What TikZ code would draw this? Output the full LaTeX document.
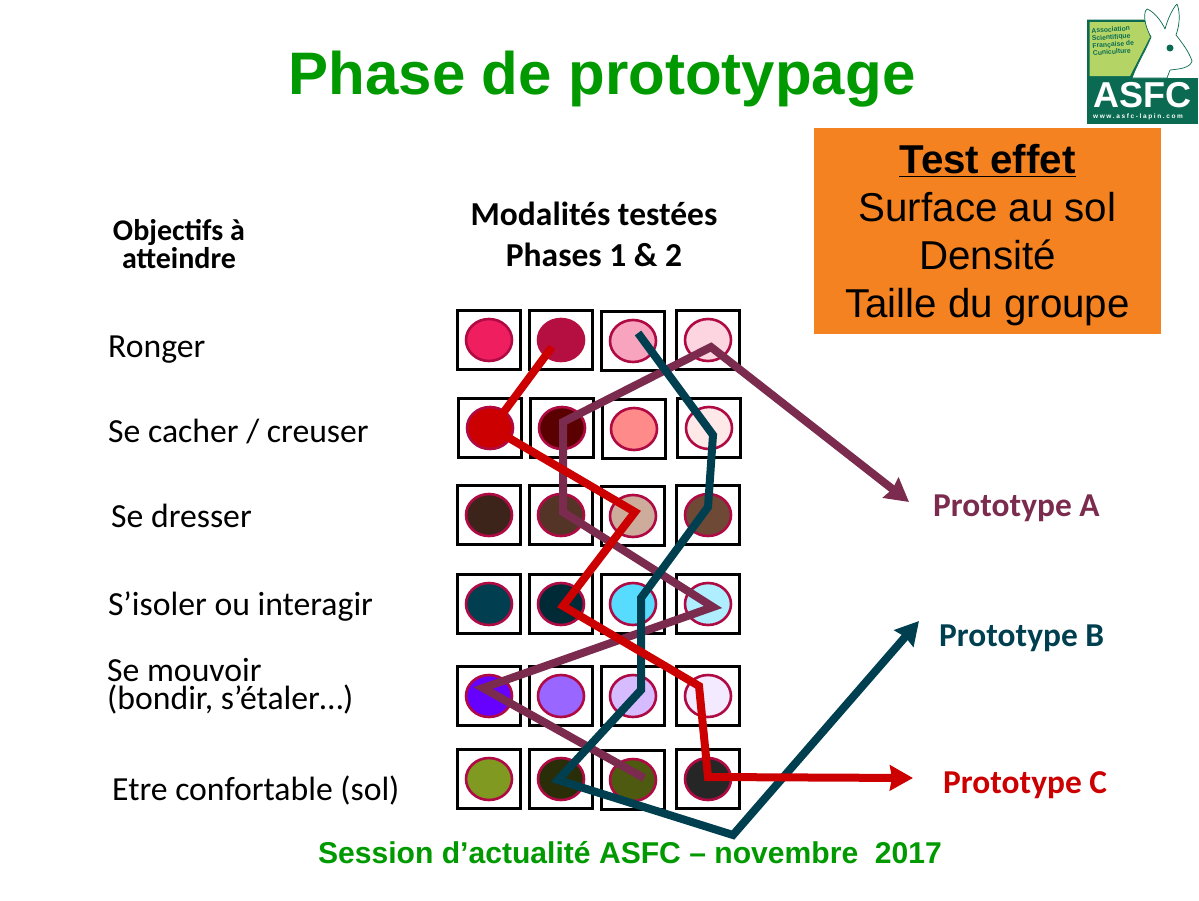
\documentclass[tikz,border=0pt]{standalone}
\usepackage{fontspec}
\setmainfont{Liberation Sans}
\newfontfamily\calibri{Carlito}
\usetikzlibrary{arrows,arrows.meta,positioning,shapes.geometric}
\definecolor{rimred}{HTML}{B00A44}
\definecolor{protoA}{HTML}{7A2B4E}
\definecolor{protoB}{HTML}{003F4F}
\definecolor{protoC}{HTML}{CC0000}
\definecolor{titlegreen}{HTML}{009900}
\definecolor{logodark}{HTML}{0A6B52}
\definecolor{logolight}{HTML}{B4D565}
\definecolor{boxorange}{HTML}{F58220}
\begin{document}
\begin{tikzpicture}[>={Stealth[length=23pt,width=25pt,inset=2pt]},x=1pt,y=-1pt]
      \tikzset{
	  cell/.style={rectangle, draw=black, line width=3pt, fill=white, inner sep=0em, minimum width=63pt, minimum height=59pt},
	  dot/.style={ellipse, draw=rimred, line width=2.6pt, inner sep=0em, minimum width=46pt, minimum height=42pt},
	  goal/.style={anchor=west, inner sep=0em, font=\calibri\fontsize{33.7}{33.7}\selectfont, text=black},
	  head/.style={align=center, inner sep=0em, font=\calibri\bfseries\fontsize{33.5}{41}\selectfont, text=black},
	  proto/.style={anchor=west, inner sep=0em, font=\calibri\bfseries\fontsize{33.4}{33.4}\selectfont},
	  track/.style={line width=8pt, line join=miter},
      }
      \useasboundingbox (0, 0) rectangle (1199, 900);

      \node (title) at (602, 79) [text=titlegreen, font=\bfseries\fontsize{60}{60}\selectfont] {Phase de prototypage};
      \node (footer) at (630, 853) [text=titlegreen, font=\bfseries\fontsize{30.1}{30}\selectfont] {Session d’actualité ASFC – novembre\ \ 2017};

      % logo
      \fill [logodark] (1087, 19.5) -- (1145, 19.5) -- (1153, 37) -- (1132, 78.5) -- (1087, 78.5) -- cycle;
      \fill [logolight] (1089.5, 22) -- (1145, 22) -- (1150, 37) -- (1130, 76) -- (1089.5, 76) -- cycle;
      \fill [logodark] (1087, 78) rectangle (1198, 124);
      \draw [logodark, fill=white, line width=0.7pt, line join=round] (1132, 78) .. controls (1138, 62) and (1146, 50) .. (1151, 37)
	.. controls (1144, 25) and (1143, 12) .. (1147, 9) .. controls (1153, 11) and (1161, 20) .. (1165, 29)
	.. controls (1168, 18) and (1173, 8) .. (1177, 4) .. controls (1181, 14) and (1179, 27) .. (1176, 35)
	.. controls (1183, 44) and (1189, 52) .. (1192, 61) .. controls (1190, 68) and (1180, 69) .. (1170, 70)
	-- (1167, 78) -- cycle;
      \fill [logodark] (1170, 48) circle (3.5pt);
      \node (logotext) at (1092, 42) [anchor=west, inner sep=0em, rotate=4, align=left, text=logodark, font=\bfseries\fontsize{6.8}{7.4}\selectfont] {Association\\Scientifique\\Française de\\Cuniculture};
      \node (logoname) at (1142.5, 95) [inner sep=0em, text=white, font=\bfseries\fontsize{36}{36}\selectfont] {ASFC};
      \node (logoweb) at (1138, 117) [inner sep=0em, text=white, font=\bfseries\fontsize{6.5}{6.5}\selectfont\addfontfeature{LetterSpace=25}] {www.asfc-lapin.com};

      % orange box
      \node (test) at (987.5, 231) [rectangle, fill=boxorange, minimum width=347pt, minimum height=206pt] {};
      \node (testtext) at (987.5, 235.5) [align=center, inner sep=0em, font=\fontsize{40.3}{48}\selectfont] {\underline{\textbf{Test effet}}\\Surface au sol\\Densité\\Taille du groupe};

      \node (objectifs) at (179, 244) [head, font=\calibri\bfseries\fontsize{30}{28}\selectfont] {Objectifs à\\atteindre};
      \node (modalites) at (594, 234) [head] {Modalités testées\\Phases 1 \& 2};

      \node (ronger) at (108, 350) [goal] {Ronger};
      \node (cacher) at (108, 432) [goal] {Se cacher / creuser};
      \node (dresser) at (111, 516) [goal] {Se dresser};
      \node (isoler) at (108, 607) [goal] {S’isoler ou interagir};
      \node (mouvoir) at (107, 686.5) [goal, align=left, font=\calibri\fontsize{33.7}{28}\selectfont] {Se mouvoir\\(bondir, s’étaler…)};
      \node (confort) at (112, 790) [goal] {Etre confortable (sol)};

      % row 1
      \node (c11) at (489, 340) [cell] {};	\node (d11) at (c11) [dot, fill={rgb,255:red,238;green,30;blue,95}] {};
      \node (c12) at (561, 340) [cell] {};	\node (d12) at (c12) [dot, fill={rgb,255:red,181;green,15;blue,66}, draw={rgb,255:red,181;green,15;blue,66}] {};
      \node (c13) at (633, 341) [cell] {};	\node (d13) at (c13) [dot, fill={rgb,255:red,248;green,164;blue,190}] {};
      \node (c14) at (708, 340) [cell] {};	\node (d14) at (c14) [dot, fill={rgb,255:red,252;green,213;blue,224}] {};
      % row 2
      \node (c21) at (490, 428) [cell] {};	\node (d21) at (c21) [dot, fill=protoC] {};
      \node (c22) at (562, 428) [cell] {};	\node (d22) at (c22) [dot, fill={rgb,255:red,90;green,0;blue,0}] {};
      \node (c23) at (634, 429) [cell] {};	\node (d23) at (c23) [dot, fill={rgb,255:red,255;green,138;blue,138}] {};
      \node (c24) at (709, 428) [cell] {};	\node (d24) at (c24) [dot, fill={rgb,255:red,255;green,232;blue,232}] {};
      % row 3
      \node (c31) at (489, 515) [cell] {};	\node (d31) at (c31) [dot, fill={rgb,255:red,60;green,36;blue,26}] {};
      \node (c32) at (561, 515) [cell] {};	\node (d32) at (c32) [dot, fill={rgb,255:red,84;green,52;blue,38}] {};
      \node (c33) at (633, 516) [cell] {};	\node (d33) at (c33) [dot, fill={rgb,255:red,205;green,172;blue,155}] {};
      \node (c34) at (708, 515) [cell] {};	\node (d34) at (c34) [dot, fill={rgb,255:red,110;green,74;blue,54}] {};
      % row 4
      \node (c41) at (489, 604) [cell] {};	\node (d41) at (c41) [dot, fill={rgb,255:red,0;green,62;blue,80}] {};
      \node (c42) at (561, 604) [cell] {};	\node (d42) at (c42) [dot, fill={rgb,255:red,0;green,42;blue,54}] {};
      \node (c43) at (633, 604) [cell] {};	\node (d43) at (c43) [dot, fill={rgb,255:red,87;green,220;blue,255}] {};
      \node (c44) at (708, 604) [cell] {};	\node (d44) at (c44) [dot, fill={rgb,255:red,175;green,238;blue,255}] {};
      % row 5
      \node (c51) at (489, 696) [cell] {};	\node (d51) at (c51) [dot, fill={rgb,255:red,102;green,0;blue,255}] {};
      \node (c52) at (561, 696) [cell] {};	\node (d52) at (c52) [dot, fill={rgb,255:red,153;green,102;blue,255}] {};
      \node (c53) at (633, 696) [cell] {};	\node (d53) at (c53) [dot, fill={rgb,255:red,214;green,188;blue,255}] {};
      \node (c54) at (708, 696) [cell] {};	\node (d54) at (c54) [dot, fill={rgb,255:red,243;green,234;blue,255}] {};
      % row 6
      \node (c61) at (489, 779) [cell] {};	\node (d61) at (c61) [dot, fill={rgb,255:red,128;green,153;blue,32}] {};
      \node (c62) at (561, 779) [cell] {};	\node (d62) at (c62) [dot, fill={rgb,255:red,42;green,46;blue,8}] {};
      \node (c63) at (633, 780) [cell] {};	\node (d63) at (c63) [dot, fill={rgb,255:red,78;green,90;blue,16}] {};
      \node (c64) at (708, 779) [cell] {};	\node (d64) at (c64) [dot, fill={rgb,255:red,38;green,38;blue,38}] {};

      \node (pa) at (933, 508) [proto, text=protoA] {Prototype A};
      \node (pb) at (939, 638) [proto, text=protoB] {Prototype B};
      \node (pc) at (943, 785) [proto, text=protoC] {Prototype C};

      % purple track
      \coordinate (a1) at (644, 778);
      \coordinate (a2) at (483, 688);
      \coordinate (a3) at (713, 607);
      \coordinate (a4) at (563, 512);
      \coordinate (a5) at (563, 422);
      \coordinate (a6) at (711, 347);
      \coordinate (a7) at (909, 502);
      \draw [track, protoA, ->] (a1) -- (a2) -- (a3) -- (a4) -- (a5) -- (a6) -- (a7);

      % teal track
      \coordinate (b1) at (638, 333);
      \coordinate (b2) at (713, 435);
      \coordinate (b3) at (708, 507);
      \coordinate (b4) at (641, 598);
      \coordinate (b5) at (641, 690);
      \coordinate (b6) at (558, 780);
      \coordinate (b7) at (733, 835);
      \coordinate (b8) at (919, 621);
      \draw [track, protoB, ->] (b1) -- (b2) -- (b3) -- (b4) -- (b5) -- (b6) -- (b7) -- (b8);

      % red track
      \coordinate (r1) at (552, 347);
      \coordinate (r2) at (492, 428);
      \coordinate (r3) at (635, 512);
      \coordinate (r4) at (563, 606);
      \coordinate (r5) at (699, 686);
      \coordinate (r6) at (708, 777);
      \coordinate (r7) at (913, 778);
      \draw [track, protoC, ->] (r1) -- (r2) -- (r3) -- (r4) -- (r5) -- (r6) -- (r7);
\end{tikzpicture}
\end{document}
